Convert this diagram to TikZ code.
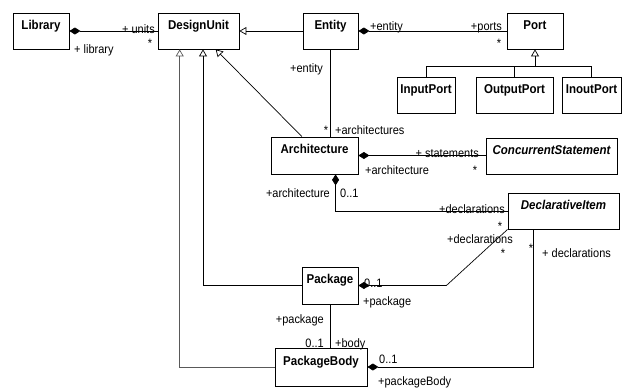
\documentclass[tikz,border=0pt]{standalone}
\usepackage{fontspec}
\setmainfont{Liberation Sans}[FakeStretch=0.9]
\usepackage{tikz}
\usetikzlibrary{arrows.meta, calc, positioning}
\tikzset{
  umlclass/.style={
    draw, line width=0.8pt, fill=white, align=center,
    font=\fontsize{12.8}{14}\selectfont\bfseries,
    text height=9pt, text depth=13pt, minimum height=36pt, inner sep=3pt
  },
  abstractclass/.style={
    umlclass, font=\fontsize{12.8}{14}\selectfont\bfseries\itshape
  },
  rolelabel/.style={
    font=\fontsize{12.2}{14}\selectfont, inner sep=0pt
  },
  assocline/.style={line width=0.7pt},
  composition/.style={assocline, {Diamond[length=11pt, width=7pt]}-},
  generalization/.style={assocline, -{Triangle[open, length=7pt, width=8pt]}},
}

\begin{document}
\begin{tikzpicture}[x=1pt, y=-1pt]
  \useasboundingbox (0,0) rectangle (631,388);

  % Classes
  \node[umlclass, minimum width=56pt] (lib) at (41,31) {Library};
  \node[umlclass, minimum width=81pt] (du) at (198.5,31) {DesignUnit};
  \node[umlclass, minimum width=55pt] (ent) at (330.5,31) {Entity};
  \node[umlclass, minimum width=56pt] (port) at (535,31) {Port};
  \node[umlclass, minimum width=58pt] (inp) at (426,95) {InputPort};
  \node[umlclass, minimum width=77pt] (outp) at (514.5,95) {OutputPort};
  \node[umlclass, minimum width=59pt] (inoutp) at (591.5,95) {InoutPort};
  \node[umlclass, minimum width=87pt, minimum height=37pt] (arch) at (314.5,155.5) {Architecture};
  \node[abstractclass, minimum width=131pt] (cs) at (551.5,156) {ConcurrentStatement};
  \node[abstractclass, minimum width=111pt] (di) at (563.5,211) {DeclarativeItem};
  \node[umlclass, minimum width=56pt, minimum height=37pt] (pkg) at (330,285.5) {Package};
  \node[umlclass, minimum width=92pt, minimum height=38pt] (pkgb) at (321,367) {PackageBody};

  % Attachment points
  \coordinate (du-a) at ($(du.south west)!0.27!(du.south east)$);
  \coordinate (du-b) at ($(du.south west)!0.555!(du.south east)$);
  \coordinate (du-c) at ($(du.south west)!0.71!(du.south east)$);
  \coordinate (arch-top) at ($(arch.north west)!0.356!(arch.north east)$);
  \coordinate (arch-bot) at ($(arch.south west)!0.74!(arch.south east)$);
  \coordinate (di-bot) at ($(di.south west)!0.234!(di.south east)$);
  \coordinate (port-join) at ($(port.south)+(0,17)$);

  % Generalizations
  \draw[generalization] (ent.west) -- (du.east);
  \draw[generalization, black!65] (pkgb.west) -| (du-a);
  \draw[generalization] (pkg.west) -| (du-b);
  \draw[generalization] (arch-top) -- (du-c);
  \draw[generalization] (port-join) -- (port.south);
  \draw[assocline] (inp.north) |- (port-join) -| (inoutp.north);
  \draw[assocline] (outp.north) -- (outp.north |- port-join);

  % Associations
  \draw[composition] (lib.east) -- (du.west);
  \draw[composition] (ent.east) -- (port.west);
  \draw[assocline] (ent.south) -- (ent.south |- arch.north);
  \draw[composition] (arch.east) -- (arch.east -| cs.west);
  \draw[composition] (arch-bot) |- (di.west);
  \draw[composition] (pkg.east) -- ++(88,0) -- (di.south west);
  \draw[composition] (pkgb.east) -| (di-bot);
  \draw[assocline] (pkg.south) -- (pkg.south |- pkgb.north);

  % Role names and multiplicities
  \node[rolelabel, anchor=base east] (l-units) at (155,33) {+ units};
  \node[rolelabel, anchor=base] (m-units) at (150,47) {*};
  \node[rolelabel, anchor=base west] (l-library) at (74,53) {+ library};

  \node[rolelabel, anchor=base west] (l-entity) at (370,30) {+entity};
  \node[rolelabel, anchor=base east] (l-ports) at (502,30) {+ports};
  \node[rolelabel, anchor=base] (m-ports) at (499,47) {*};

  \node[rolelabel, anchor=base east] (l-entity2) at (323,72) {+entity};
  \node[rolelabel, anchor=base] (m-archs) at (326,134) {*};
  \node[rolelabel, anchor=base west] (l-archs) at (335,134) {+architectures};

  \node[rolelabel, anchor=base east] (l-stmts) at (479,157) {+ statements};
  \node[rolelabel, anchor=base west] (l-arch1) at (365,174) {+architecture};
  \node[rolelabel, anchor=base] (m-stmts) at (475,174) {*};

  \node[rolelabel, anchor=base east] (l-arch2) at (330,197) {+architecture};
  \node[rolelabel, anchor=base west] (m-arch2) at (340,197) {0..1};
  \node[rolelabel, anchor=base east] (l-decl1) at (505,213) {+declarations};
  \node[rolelabel, anchor=base] (m-decl1) at (500,230) {*};

  \node[rolelabel, anchor=base west] (l-decl2) at (447,243) {+declarations};
  \node[rolelabel, anchor=base] (m-decl2) at (503,257) {*};
  \node[rolelabel, anchor=base west] (m-pkg) at (364,287) {0..1};
  \node[rolelabel, anchor=base west] (l-pkg) at (363,305) {+package};

  \node[rolelabel, anchor=base] (m-decl3) at (531,252) {*};
  \node[rolelabel, anchor=base west] (l-decl3) at (542,257) {+ declarations};
  \node[rolelabel, anchor=base west] (m-pkgb) at (379,363) {0..1};
  \node[rolelabel, anchor=base west] (l-pkgb) at (378,385) {+packageBody};

  \node[rolelabel, anchor=base east] (l-pkg2) at (324,323) {+package};
  \node[rolelabel, anchor=base east] (m-body) at (324,347) {0..1};
  \node[rolelabel, anchor=base west] (l-body) at (335,347) {+body};
\end{tikzpicture}
\end{document}
